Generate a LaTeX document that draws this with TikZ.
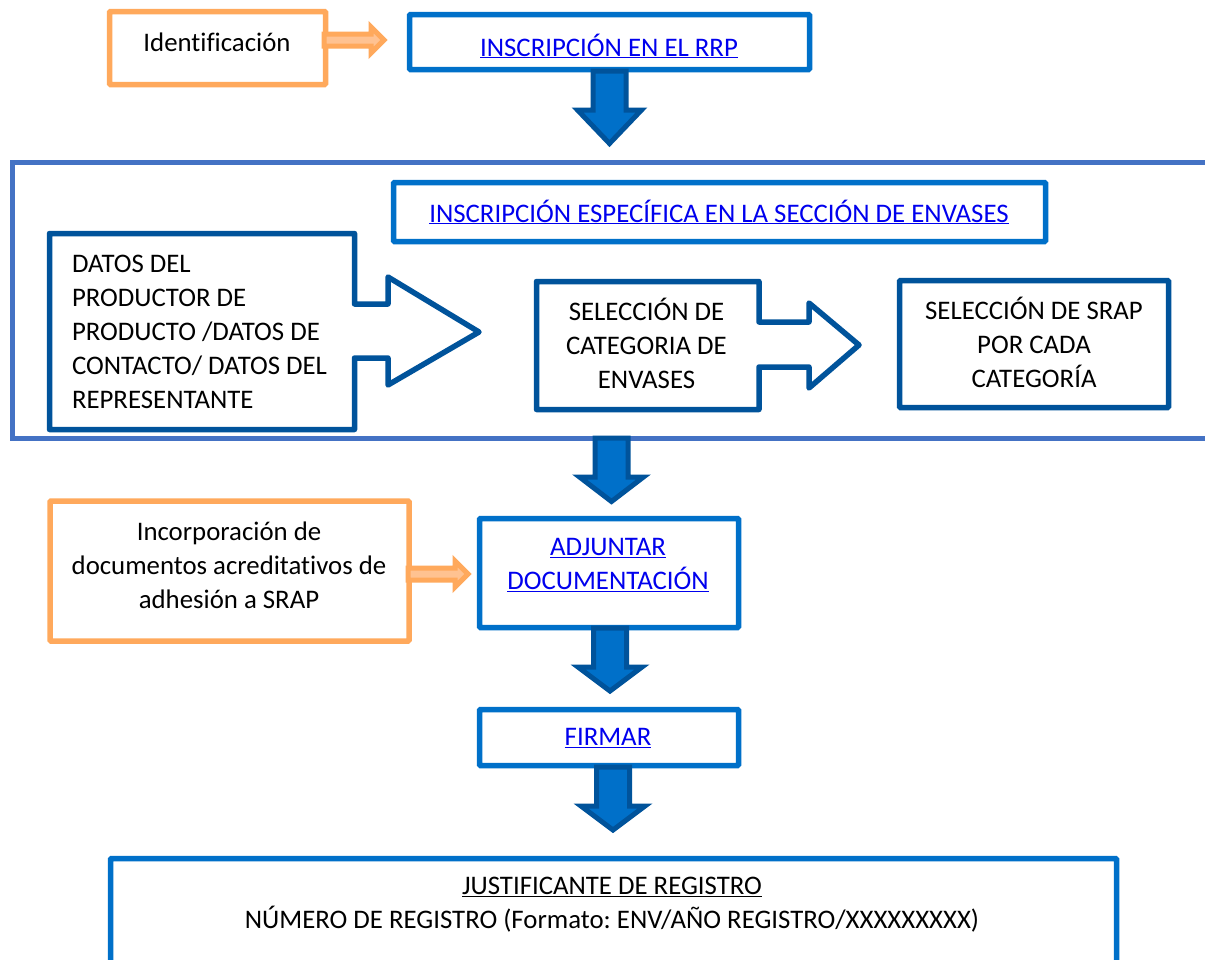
\documentclass[tikz,border=0pt]{standalone}
\usepackage{fontspec}
\setmainfont{Carlito}[Ligatures={NoCommon}]
\frenchspacing
\definecolor{bluebox}{HTML}{0070C9}
\definecolor{darkblue}{HTML}{00539B}
\definecolor{framecol}{HTML}{4472C4}
\definecolor{orangebox}{HTML}{FFA95C}
\definecolor{orangelight}{HTML}{FFC291}
\definecolor{linkcol}{HTML}{0000EE}
\newcommand{\lnk}[1]{\textcolor{linkcol}{\underline{#1}}}
\tikzset{
  every node/.style={outer sep=0pt},
  txt/.style={font=\fontsize{26.8}{34}\selectfont, text=black, inner sep=0pt, align=center},
  bluerect/.style={draw=bluebox, line width=5.5pt, rounded corners=1pt, fill=white, txt},
  orangerect/.style={draw=orangebox, line width=5.5pt, rounded corners=1pt, fill=white, txt},
  darkrect/.style={draw=darkblue, line width=5.5pt, rounded corners=1pt, fill=white, txt},
  outline/.style={draw=darkblue, line width=5.5pt, line join=round, fill=white},
  downblock/.style={draw=darkblue, line width=5pt, line join=miter, fill=bluebox},
  orangeblock/.style={draw=orangebox, fill=orangelight, line width=5pt, line join=miter},
}
% centre x, top y, tip y
\newcommand{\downarr}[3]{\draw[downblock] (#1-16.5,#2) -- (#1-16.5,#2+39) -- (#1-32,#2+39) -- (#1,#3) -- (#1+32,#2+39) -- (#1+16.5,#2+39) -- (#1+16.5,#2) -- cycle;}
% start x, centre y
\newcommand{\orangearr}[2]{\draw[orangeblock] (#1,#2-6) -- (#1+47,#2-6) -- (#1+47,#2-13) -- (#1+60,#2) -- (#1+47,#2+13) -- (#1+47,#2+6) -- (#1,#2+6) -- cycle;}
\begin{document}
\begin{tikzpicture}[x=1pt,y=-1pt]
\useasboundingbox (0,0) rectangle (1205,959);
\clip (0,0) rectangle (1205,959);
\fill[white] (0,0) rectangle (1205,959);
% frame
\node[draw=framecol, line width=5pt, minimum width=1300pt, minimum height=276pt, anchor=north west, inner sep=0pt] (frame) at (12,162) {};
% top row
\node[orangerect, minimum width=216pt, minimum height=73pt, anchor=north west] (ident) at (109.5,11.5) {};
\node[txt] (identt) at (217,42) {Identificación};
\node[bluerect, minimum width=400pt, minimum height=55pt, anchor=north west] (rrp) at (409.5,14.5) {};
\node[txt] (rrpt) at (609,46) {\lnk{INSCRIPCIÓN EN EL RRP}};
\orangearr{324}{40}
% section
\node[bluerect, minimum width=652pt, minimum height=59pt, anchor=north west] (spec) at (393.5,182.5) {};
\node[txt] (spect) at (719,212) {\lnk{INSCRIPCIÓN ESPECÍFICA EN LA SECCIÓN DE ENVASES}};
% callout 1
\draw[outline] (49.5,233.5) coordinate (c1) -- (354.5,233.5) -- (354.5,304) -- (388,304) -- (388,277) -- (479,332) -- (388,385) -- (388,358) -- (354.5,358) -- (354.5,429.5) -- (49.5,429.5) -- cycle;
\node[txt, align=left, anchor=north west] (datos) at (72,255) {DATOS DEL\\PRODUCTOR DE\\PRODUCTO /DATOS DE\\CONTACTO/ DATOS DEL\\REPRESENTANTE};
% callout 2
\draw[outline] (536.5,281.5) coordinate (c2) -- (759,281.5) -- (759,322) -- (809,322) -- (809,303) -- (859,345) -- (809,388) -- (809,367) -- (759,367) -- (759,409.5) -- (536.5,409.5) -- cycle;
\node[txt] (catt) at (646.5,343) {SELECCIÓN DE\\CATEGORIA DE\\ENVASES};
\node[darkrect, minimum width=269pt, minimum height=127pt, anchor=north west] (srap) at (899.5,280.5) {};
\node[txt] (srapt) at (1034,342) {SELECCIÓN DE SRAP\\POR CADA\\CATEGORÍA};
% adjuntar row
\node[orangerect, minimum width=359pt, minimum height=140pt, anchor=north west] (docs) at (50,501) {};
\node[txt] (docst) at (229,565) {Incorporación de\\documentos acreditativos de\\adhesión a SRAP};
\node[bluerect, minimum width=259pt, minimum height=109pt, anchor=north west] (adj) at (479.5,518.5) {};
\node[txt] (adjt) at (608,565) {\lnk{ADJUNTAR}\\\lnk{DOCUMENTACIÓN}};
\orangearr{408}{574}
% firmar
\node[bluerect, minimum width=259pt, minimum height=56pt, anchor=north west] (fir) at (479.5,709.5) {};
\node[txt] (firt) at (608,738) {\lnk{FIRMAR}};
% justificante
\node[bluerect, minimum width=1006pt, minimum height=150pt, anchor=north west] (jus) at (110.5,858.5) {};
\node[txt] (just) at (612,905) {\underline{JUSTIFICANTE DE REGISTRO}\\NÚMERO DE REGISTRO (Formato: ENV/AÑO REGISTRO/XXXXXXXXX)};
% down arrows
\downarr{609.5}{71}{143.5}
\downarr{611.5}{438}{501.5}
\downarr{610}{628}{691}
\downarr{613}{767}{830}
\end{tikzpicture}
\end{document}
